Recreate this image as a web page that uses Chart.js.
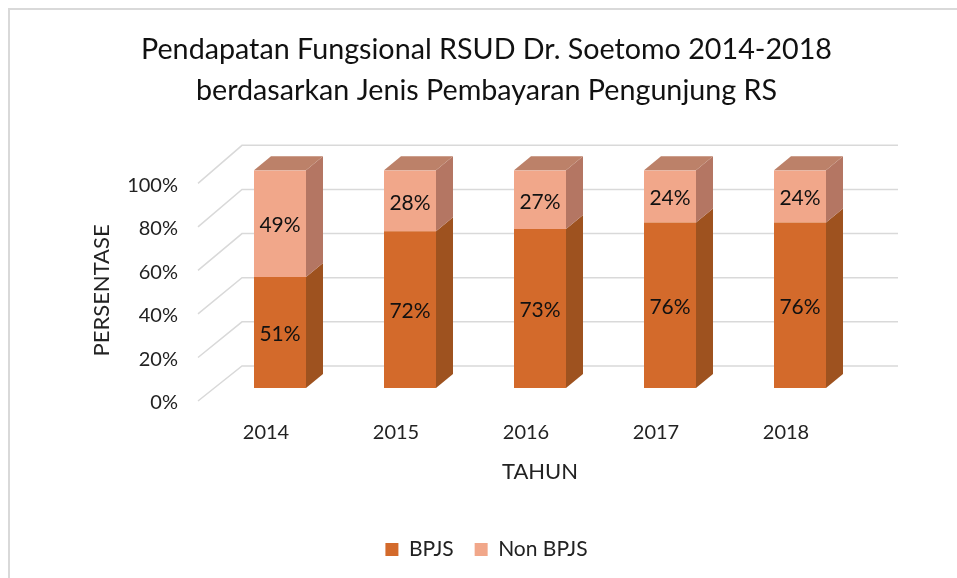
<!DOCTYPE html>
<html>
<head>
<meta charset="utf-8">
<script src="https://cdn.jsdelivr.net/npm/chart.js@4"></script>
<style>
html,body{margin:0;padding:0;background:#fff;}
#wrap{position:relative;width:957px;height:578px;}
#frame{position:absolute;left:8px;top:8px;width:960px;height:590px;border:2px solid #d9d9d9;box-sizing:border-box;}
canvas{position:absolute;left:0;top:0;}
</style>
</head>
<body>
<div id="wrap"><div id="frame"></div><canvas id="c" width="957" height="578"></canvas></div>
<script>
const years = ['2014','2015','2016','2017','2018'];
const bpjs = [51,72,73,76,76];
const nonBpjs = [49,28,27,24,24];
const yTicks = [0,20,40,60,80,100];

const FONT = 'Lato';
const DX = 17, DY = -14;
const colors = {
  bpjs: {front:'#D36A2B', side:'#9E521F', top:'#B86A3A'},
  non:  {front:'#F1A78A', side:'#B47663', top:'#BC8169'}
};

const bar3d = {
  id:'bar3d',
  beforeDatasetsDraw(chart){
    const ctx = chart.ctx, ys = chart.scales.y, area = chart.chartArea;
    ctx.save();
    ctx.strokeStyle = '#d9d9d9';
    ctx.lineWidth = 1.5;
    yTicks.forEach(v=>{
      const yf = ys.getPixelForValue(v);
      const yb = yf - 22 - 3*v/100;
      const yl = yf + 13;
      ctx.beginPath();
      ctx.moveTo(area.left - 17, yl);
      ctx.lineTo(area.left + 27, yb);
      ctx.lineTo(area.right + 33, yb);
      ctx.stroke();
    });
    ctx.restore();
  },
  afterDatasetsDraw(chart){
    const ctx = chart.ctx;
    const sets = [colors.bpjs, colors.non];
    ctx.save();
    chart.data.datasets.forEach((ds,di)=>{
      const meta = chart.getDatasetMeta(di);
      meta.data.forEach((bar,i)=>{
        const p = bar.getProps(['x','y','base','width'], true);
        const l = p.x - p.width/2, r = p.x + p.width/2;
        const top = Math.min(p.y,p.base), bot = Math.max(p.y,p.base);
        ctx.fillStyle = sets[di].side;
        ctx.beginPath();
        ctx.moveTo(r, top); ctx.lineTo(r+DX, top+DY); ctx.lineTo(r+DX, bot+DY); ctx.lineTo(r, bot); ctx.closePath(); ctx.fill();
        if (di === chart.data.datasets.length-1){
          ctx.fillStyle = sets[di].top;
          ctx.beginPath();
          ctx.moveTo(l, top); ctx.lineTo(l+DX, top+DY); ctx.lineTo(r+DX, top+DY); ctx.lineTo(r, top); ctx.closePath(); ctx.fill();
        }
        ctx.fillStyle = '#111';
        ctx.font = '21px ' + FONT;
        ctx.textAlign = 'center';
        ctx.textBaseline = 'middle';
        ctx.fillText(ds.data[i] + '%', p.x, (top+bot)/2 + 2);
      });
    });
    ctx.restore();
  }
};

new Chart(document.getElementById('c'), {
  type:'bar',
  data:{
    labels: years,
    datasets:[
      {label:'BPJS', data:bpjs, backgroundColor:colors.bpjs.front, barPercentage:0.8, categoryPercentage:0.5},
      {label:'Non BPJS', data:nonBpjs, backgroundColor:colors.non.front, barPercentage:0.8, categoryPercentage:0.5}
    ]
  },
  options:{
    responsive:false,
    animation:false,
    devicePixelRatio:1,
    layout:{padding:{left:16,right:0,top:0,bottom:8}},
    plugins:{
      title:{display:true, text:['Pendapatan Fungsional RSUD Dr. Soetomo 2014-2018','berdasarkan Jenis Pembayaran Pengunjung RS'],
        color:'#111', font:{family:FONT, size:28.7, weight:'normal', lineHeight:1.4}, padding:{top:30,bottom:60}},
      legend:{position:'bottom', labels:{color:'#222', font:{family:FONT,size:21}, boxWidth:13, boxHeight:13, padding:21}},
      tooltip:{enabled:false}
    },
    scales:{
      x:{stacked:true, grid:{display:false, drawTicks:false}, border:{display:false},
        ticks:{color:'#222', font:{family:FONT,size:20}, labelOffset:-14, padding:33},
        title:{display:true, text:'TAHUN', color:'#222', font:{family:FONT,size:22}, padding:{top:0,bottom:33}},
        afterFit(scale){ scale.height = 130; }},
      y:{stacked:true, min:0, max:100, grid:{display:false, drawTicks:false}, border:{display:false},
        ticks:{stepSize:20, color:'#222', font:{family:FONT,size:20}, labelOffset:15, padding:37, callback:v=>v+'%'},
        title:{display:true, text:'PERSENTASE    ', color:'#222', font:{family:FONT,size:22}, padding:{top:73,bottom:0}},
        afterFit(scale){ scale.width = 199; }},
      yr:{position:'right', min:0, max:100, display:true, grid:{display:false, drawTicks:false}, border:{display:false},
        ticks:{display:false}, afterFit(scale){ scale.width = 92; }}
    }
  },
  plugins:[bar3d]
});
</script>
</body>
</html>
